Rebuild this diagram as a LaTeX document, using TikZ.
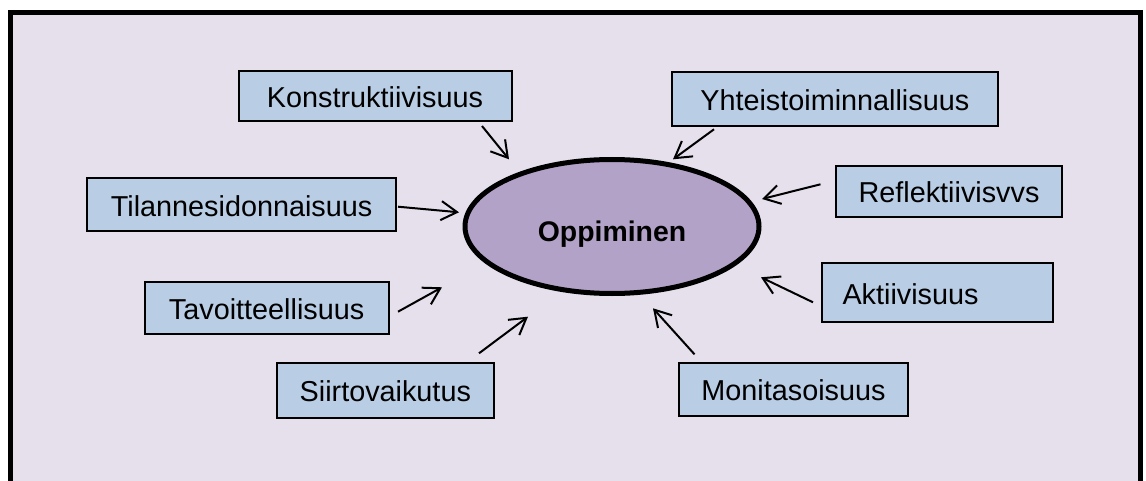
\documentclass[tikz,border=0pt]{standalone}
\usepackage{fontspec}
\setmainfont{Liberation Sans}
\usetikzlibrary{shapes.geometric,arrows.meta}

\definecolor{fondlila}{HTML}{E5E0EC}
\definecolor{boitebleu}{HTML}{B9CDE5}
\definecolor{ovalelila}{HTML}{B3A2C7}

\tikzset{
  boite/.style={draw=black, line width=1pt, fill=boitebleu, inner sep=0pt,
    text height=11.7pt, text depth=0pt, font=\fontsize{14.4}{17}\selectfont},
  fleche/.style={->, line width=1pt, >={Straight Barb[length=8pt,width=9.5pt]}},
}

\begin{document}
\begin{tikzpicture}[x=0.5pt, y=-0.5pt]
       \useasboundingbox (0,0) rectangle (1146,481);
       \fill[white] (0,0) rectangle (1146,481);
       \fill[fondlila] (10.5,12.5) rectangle (1140,481);
       \draw[line width=2.5pt] (10.5,484) -- (10.5,12.5) -- (1140,12.5) -- (1140,484);

       \node[ellipse, draw, line width=2.5pt, fill=ovalelila, minimum width=147pt,
       minimum height=67pt, inner sep=0pt, text height=15.2pt, text depth=0pt,
       font=\fontsize{14.2}{17}\selectfont\bfseries] (oppiminen) at (612,226.5) {Oppiminen};

       \node[boite, minimum width=136.5pt, minimum height=25pt] (konstr) at (375,96) {Konstruktiivisuus};
       \node[boite, minimum width=154.8pt, minimum height=26.2pt] (tilanne) at (241.6,204.5) {Tilannesidonnaisuus};
       \node[boite, minimum width=163.2pt, minimum height=27.4pt] (yhteis) at (834.8,99.1) {Yhteistoiminnallisuus};
       \node[boite, minimum width=113pt, minimum height=25.5pt] (reflek) at (949,191.2) {Reflektiivisvvs};
       \node[boite, minimum width=122pt, minimum height=26.3pt] (tavoite) at (266.6,308) {Tavoitteellisuus};
       \node[boite, minimum width=108.3pt, minimum height=27.5pt] (siirto) at (385.3,390.2) {Siirtovaikutus};
       \node[boite, minimum width=115.5pt, minimum height=29.2pt, text width=94.5pt, align=left]
       (aktiiv) at (937,292.5) {Aktiivisuus};
       \node[boite, minimum width=114.5pt, minimum height=26.5pt] (monit) at (793.5,389.2) {Monitasoisuus};

       \coordinate (konstr-a) at (482,126);     \coordinate (konstr-b) at (509,159.3);
       \coordinate (tilanne-a) at (398,206.7);  \coordinate (tilanne-b) at (459,212.3);
       \coordinate (yhteis-a) at (714,129.3);   \coordinate (yhteis-b) at (673,159.3);
       \coordinate (reflek-a) at (820.5,184.3); \coordinate (reflek-b) at (762,199);
       \coordinate (tavoite-a) at (398,311.7);  \coordinate (tavoite-b) at (442,287.3);
       \coordinate (siirto-a) at (479,353.3);   \coordinate (siirto-b) at (528,316.7);
       \coordinate (aktiiv-a) at (813,302.3);   \coordinate (aktiiv-b) at (761,277.3);
       \coordinate (monit-a) at (694.5,354.3);  \coordinate (monit-b) at (653,308.3);

       \draw[fleche] (konstr-a) -- (konstr-b);
       \draw[fleche] (tilanne-a) -- (tilanne-b);
       \draw[fleche] (yhteis-a) -- (yhteis-b);
       \draw[fleche] (reflek-a) -- (reflek-b);
       \draw[fleche] (tavoite-a) -- (tavoite-b);
       \draw[fleche] (siirto-a) -- (siirto-b);
       \draw[fleche] (aktiiv-a) -- (aktiiv-b);
       \draw[fleche] (monit-a) -- (monit-b);
     \end{tikzpicture}
\end{document}
